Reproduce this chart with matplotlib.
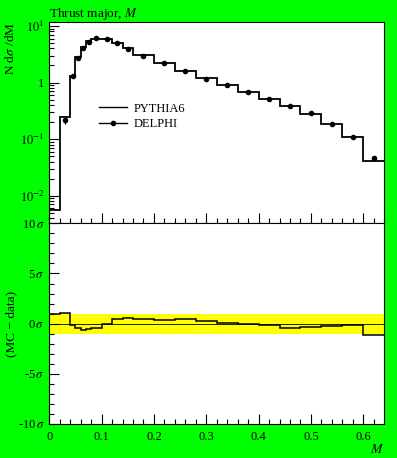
import numpy as np
import matplotlib
matplotlib.use('Agg')
from matplotlib import pyplot as plt
from matplotlib.ticker import MultipleLocator, FixedLocator, LogLocator, NullFormatter
from matplotlib.lines import Line2D

plt.rcParams['font.family'] = ['Liberation Serif', 'DejaVu Serif']
plt.rcParams['mathtext.fontset'] = 'stix'

# bin edges of the thrust major histogram
edges = [0.0, 0.02, 0.04, 0.05, 0.06, 0.07, 0.08, 0.10, 0.12, 0.14, 0.16, 0.20,
         0.24, 0.28, 0.32, 0.36, 0.40, 0.44, 0.48, 0.52, 0.56, 0.60, 0.64]

# PYTHIA6 histogram
mc = [0.0055, 0.245, 1.31, 2.80, 4.30, 5.37, 5.97, 5.80, 5.07, 4.10, 3.04,
      2.25, 1.61, 1.18, 0.90, 0.686, 0.516, 0.383, 0.277, 0.185, 0.107, 0.0416]

# DELPHI data points
data_x = [0.03, 0.045, 0.055, 0.065, 0.075, 0.09, 0.11, 0.13, 0.15, 0.18, 0.22,
          0.26, 0.30, 0.34, 0.38, 0.42, 0.46, 0.50, 0.54, 0.58, 0.62]
data_y = [0.214, 1.30, 2.69, 4.10, 5.15, 6.20, 5.80, 4.95, 3.98, 2.99, 2.20,
          1.59, 1.16, 0.91, 0.686, 0.516, 0.388, 0.284, 0.187, 0.107, 0.0457]
data_err = [0.028, 0.06, 0.12, 0.20, 0.25, 0.25, 0.20, 0.15, 0.12, 0.08, 0.06,
            0.05, 0.04, 0.03, 0.025, 0.02, 0.015, 0.012, 0.008, 0.006, 0.004]

# (MC - data) / sigma
dev = [1.0, 1.09, -0.1, -0.43, -0.66, -0.5, -0.4, 0.0, 0.43, 0.56, 0.5,
       0.36, 0.43, 0.22, 0.1, -0.03, -0.13, -0.43, -0.36, -0.27, -0.17, -1.09]

W, H = 397, 458
f = plt.figure(figsize=(W / 100, H / 100), dpi=100, facecolor='#00ff00')

left = 49.3 / W
width = (384.2 - 49.3) / W
axTop = f.add_axes([left, 1 - 223.3 / H, width, (223.3 - 22.3) / H])
axBot = f.add_axes([left, 1 - 424.0 / H, width, (424.0 - 223.3) / H])

fs = 9

"main panel"
axTop.stairs(mc, edges, color='k', lw=1.3, baseline=None)
axTop.errorbar(data_x, data_y, yerr=data_err, fmt='o', color='k', ms=3,
               elinewidth=0.9, capsize=0)
axTop.set_yscale('log')
axTop.set_xlim(0, 0.64)
axTop.set_ylim(10 ** -2.49, 10 ** 1.065)
axTop.yaxis.set_major_locator(FixedLocator([1e-2, 1e-1, 1, 10]))
axTop.set_yticklabels([r'$10^{-2}$', r'$10^{-1}$', '1', r'$10^{1}$'], fontsize=fs)
axTop.yaxis.set_minor_locator(LogLocator(base=10, subs=np.arange(2, 10), numticks=20))
axTop.yaxis.set_minor_formatter(NullFormatter())
axTop.xaxis.set_major_locator(MultipleLocator(0.1))
axTop.xaxis.set_minor_locator(MultipleLocator(0.02))
axTop.tick_params(labelbottom=False)
axTop.set_title('Thrust major, $M$', loc='left', fontsize=9.5, pad=4)
axTop.set_ylabel(r'N d$\sigma$ /dM', fontsize=9.5, loc='top')
axTop.yaxis.set_label_coords(-0.095, 1.0)

handles = [Line2D([], [], color='k', lw=1.0),
           Line2D([], [], color='k', lw=1.0, marker='o', ms=3)]
axTop.legend(handles, ['PYTHIA6', 'DELPHI'], loc='upper left',
             bbox_to_anchor=(0.148, 0.60), frameon=False, fontsize=fs,
             handlelength=2.25, handletextpad=0.5, labelspacing=0.3, borderpad=0,
             borderaxespad=0)

"ratio panel"
axBot.axhspan(-1, 1, color='#ffff00', lw=0)
axBot.axhline(0, color='k', lw=0.6)
axBot.stairs(dev, edges, color='k', lw=1.1, baseline=None)
axBot.set_xlim(0, 0.64)
axBot.set_ylim(-10, 10)
axBot.yaxis.set_major_locator(FixedLocator([-10, -5, 0, 5, 10]))
axBot.set_yticklabels([r'-10$\,\sigma$', r'-5$\,\sigma$', r'0$\,\sigma$',
                       r'5$\,\sigma$', r'10$\,\sigma$'], fontsize=fs)
axBot.yaxis.set_minor_locator(MultipleLocator(1))
axBot.xaxis.set_major_locator(MultipleLocator(0.1))
axBot.xaxis.set_minor_locator(MultipleLocator(0.02))
axBot.xaxis.set_major_formatter(plt.FuncFormatter(lambda v, p: '0' if abs(v) < 1e-9 else '%g' % v))
axBot.tick_params(axis='x', labelsize=fs, pad=5)
axBot.set_ylabel('(MC − data)', fontsize=9.5)
axBot.yaxis.set_label_coords(-0.095, 0.5)
axBot.set_xlabel('$M$', fontsize=fs + 1, loc='right', labelpad=0)

for ax in (axTop, axBot):
    ax.tick_params(which='both', direction='in', top=False, right=False, width=0.8)
    ax.tick_params(which='major', length=7)
    ax.tick_params(which='minor', length=3.5)
    for s in ax.spines.values():
        s.set_linewidth(0.8)

plt.savefig('out.png', dpi=100, facecolor=f.get_facecolor())
